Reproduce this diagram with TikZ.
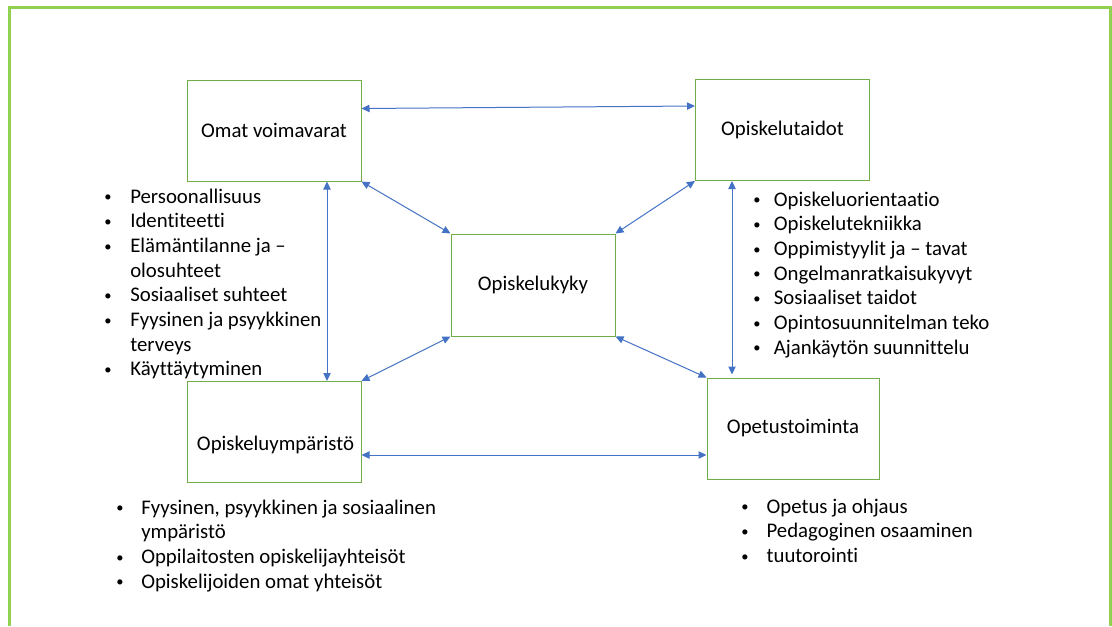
\documentclass[tikz,border=0pt]{standalone}
\usepackage{fontspec}
\setmainfont{Carlito}[Ligatures={NoCommon}]
\usetikzlibrary{arrows.meta,calc}
\definecolor{boxgreen}{HTML}{70AD47}
\definecolor{framegreen}{HTML}{92D050}
\definecolor{linkblue}{HTML}{4472C4}
\newcommand{\itembullet}{\raisebox{1pt}{\scalebox{0.7}{\textbullet}}}
\begin{document}
\begin{tikzpicture}[x=0.75pt,y=-0.75pt,
  font=\fontsize{15.6}{18.5}\selectfont,
  box/.style={draw=boxgreen, line width=0.75pt, minimum width=130.5pt, minimum height=75.75pt, inner sep=0pt},
  link/.style={draw=linkblue, line width=0.75pt, {Triangle[width=5.5pt,length=6pt]}-{Triangle[width=5.5pt,length=6pt]}},
  itemlist/.style={anchor=base west, inner sep=0pt, align=left}]
\useasboundingbox (0,0) rectangle (1112,626);
\draw[framegreen, line width=2.25pt] (9.5,626) -- (9.5,7.5) -- (1110.5,7.5) -- (1110.5,626);
% boxes
\node[box] (omat) at (274,130.5) {Omat voimavarat};
\node[box] (taidot) at (782.5,130) {Opiskelutaidot};
\node[box, minimum width=123pt, minimum height=76.5pt] (kyky) at (533,285) {Opiskelukyky};
\node[box] (ymp) at (274,432) {};
\node (ymplabel) at (275.5,445) {Opiskeluympäristö};
\node[box, minimum width=129pt] (opet) at (793,428.5) {Opetustoiminta};
% links
\draw[link] ($(omat.east)+(0,-22)$) -- ($(taidot.west)+(0,-24)$);
\draw[link] (omat.south east) -- (kyky.north west);
\draw[link] (taidot.south west) -- (kyky.north east);
\draw[link] (kyky.south east) -- (opet.north west);
\draw[link] (kyky.south west) -- (ymp.north east);
\coordinate (lv) at ($(omat.south)+(53,0)$);
\draw[link] (lv) -- (lv |- ymp.north);
\coordinate (rv) at ($(taidot.south)+(-50.5,0)$);
\draw[link] (rv) -- ($(rv |- opet.north)+(0,-3)$);
\coordinate (bh) at ($(ymp.east)+(0,23)$);
\draw[link] (bh) -- (bh -| opet.west);
% lists
\node[itemlist] (omatlist) at (104,203) {\begin{tabular}[t]{@{}p{19.5pt}@{}l@{}}
\itembullet & Persoonallisuus\\
\itembullet & Identiteetti\\
\itembullet & Elämäntilanne ja –\\
 & olosuhteet\\
\itembullet & Sosiaaliset suhteet\\
\itembullet & Fyysinen ja psyykkinen\\
 & terveys\\
\itembullet & Käyttäytyminen
\end{tabular}};
\node[itemlist] (taidotlist) at (753,206) {\begin{tabular}[t]{@{}p{15.5pt}@{}l@{}}
\itembullet & Opiskeluorientaatio\\
\itembullet & Opiskelutekniikka\\
\itembullet & Oppimistyylit ja – tavat\\
\itembullet & Ongelmanratkaisukyvyt\\
\itembullet & Sosiaaliset taidot\\
\itembullet & Opintosuunnitelman teko\\
\itembullet & Ajankäytön suunnittelu
\end{tabular}};
\node[itemlist] (ymplist) at (116,514) {\begin{tabular}[t]{@{}p{18.75pt}@{}l@{}}
\itembullet & Fyysinen, psyykkinen ja sosiaalinen\\
 & ympäristö\\
\itembullet & Oppilaitosten opiskelijayhteisöt\\
\itembullet & Opiskelijoiden omat yhteisöt
\end{tabular}};
\node[itemlist] (opetlist) at (741,513) {\begin{tabular}[t]{@{}p{19pt}@{}l@{}}
\itembullet & Opetus ja ohjaus\\
\itembullet & Pedagoginen osaaminen\\
\itembullet & tuutorointi
\end{tabular}};
\end{tikzpicture}
\end{document}
